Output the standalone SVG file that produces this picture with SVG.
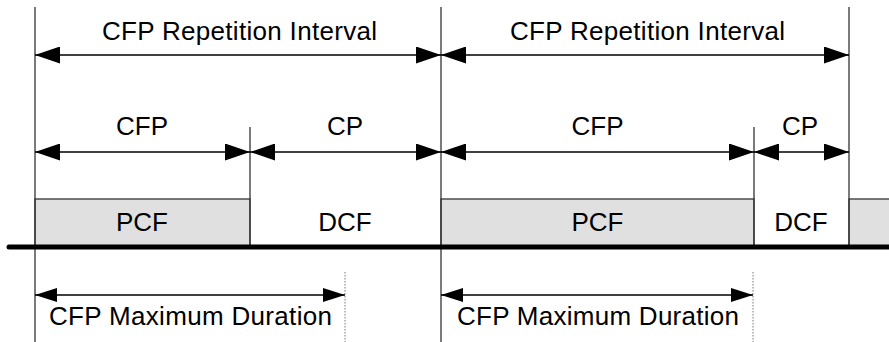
<svg xmlns="http://www.w3.org/2000/svg" width="889" height="342" viewBox="0 0 889 342">
<style>
text{font-family:"Liberation Sans",Arial,sans-serif;font-size:26px;fill:#000;text-anchor:middle}
.v{stroke:#333;stroke-width:1.3;fill:none}
.box{fill:#e0e0e0;stroke:#333;stroke-width:1.3}
.arr{stroke:#000;stroke-width:1.4;fill:none;marker-start:url(#ah);marker-end:url(#ah)}
.arrs{stroke:#000;stroke-width:1.4;fill:none;marker-start:url(#ahs);marker-end:url(#ahs)}
.dot{stroke:#777;stroke-width:1;stroke-dasharray:1.5 1.5;fill:none}
</style>
<defs>
<marker id="ah" viewBox="0 0 25 17" refX="25" refY="8.5" markerWidth="25" markerHeight="17" markerUnits="userSpaceOnUse" orient="auto-start-reverse"><path d="M0,0L25,8.5L0,17z" fill="#000"/></marker>
<marker id="ahs" viewBox="0 0 22 14" refX="22" refY="7" markerWidth="22" markerHeight="14" markerUnits="userSpaceOnUse" orient="auto-start-reverse"><path d="M0,0L22,7L0,14z" fill="#000"/></marker>
</defs>
<g id="boxes">
<g id="pcf1"><rect class="box" x="35" y="199" width="215" height="48"/><text x="142" y="231">PCF</text></g>
<g id="dcf1"><text x="345" y="231">DCF</text></g>
<g id="pcf2"><rect class="box" x="441" y="199" width="313" height="48"/><text x="597.5" y="231">PCF</text></g>
<g id="dcf2"><text x="801" y="231">DCF</text></g>
<g id="pcf3"><rect class="box" x="849" y="199" width="45" height="48"/></g>
</g>
<g id="guides">
<line class="v" x1="35" y1="7" x2="35" y2="342"/>
<line class="v" x1="441" y1="7" x2="441" y2="342"/>
<line class="v" x1="849" y1="7" x2="849" y2="247"/>
<line class="v" x1="250" y1="127" x2="250" y2="247"/>
<line class="v" x1="754" y1="127" x2="754" y2="247"/>
<line class="dot" x1="345" y1="272" x2="345" y2="342"/>
<line class="dot" x1="753" y1="272" x2="753" y2="342"/>
</g>
<g id="timeline"><line x1="9" y1="247" x2="892" y2="247" stroke="#000" stroke-width="5" stroke-linecap="round"/></g>
<g id="connectors">
<line class="arr" x1="35" y1="55" x2="441" y2="55"/>
<line class="arr" x1="441" y1="55" x2="849" y2="55"/>
<line class="arr" x1="35" y1="152" x2="250" y2="152"/>
<line class="arr" x1="250" y1="152" x2="441" y2="152"/>
<line class="arr" x1="441" y1="152" x2="754" y2="152"/>
<line class="arr" x1="754" y1="152" x2="849" y2="152"/>
<line class="arrs" x1="35" y1="295" x2="345" y2="295"/>
<line class="arrs" x1="441" y1="295" x2="753" y2="295"/>
</g>
<g id="labels">
<text x="239.5" y="40" textLength="275" lengthAdjust="spacing">CFP Repetition Interval</text>
<text x="647.5" y="40" textLength="275" lengthAdjust="spacing">CFP Repetition Interval</text>
<text x="142" y="135">CFP</text>
<text x="345" y="135">CP</text>
<text x="597.5" y="135">CFP</text>
<text x="800" y="135">CP</text>
<text x="190.5" y="325" textLength="283" lengthAdjust="spacing">CFP Maximum Duration</text>
<text x="598" y="325" textLength="282" lengthAdjust="spacing">CFP Maximum Duration</text>
</g>
</svg>
